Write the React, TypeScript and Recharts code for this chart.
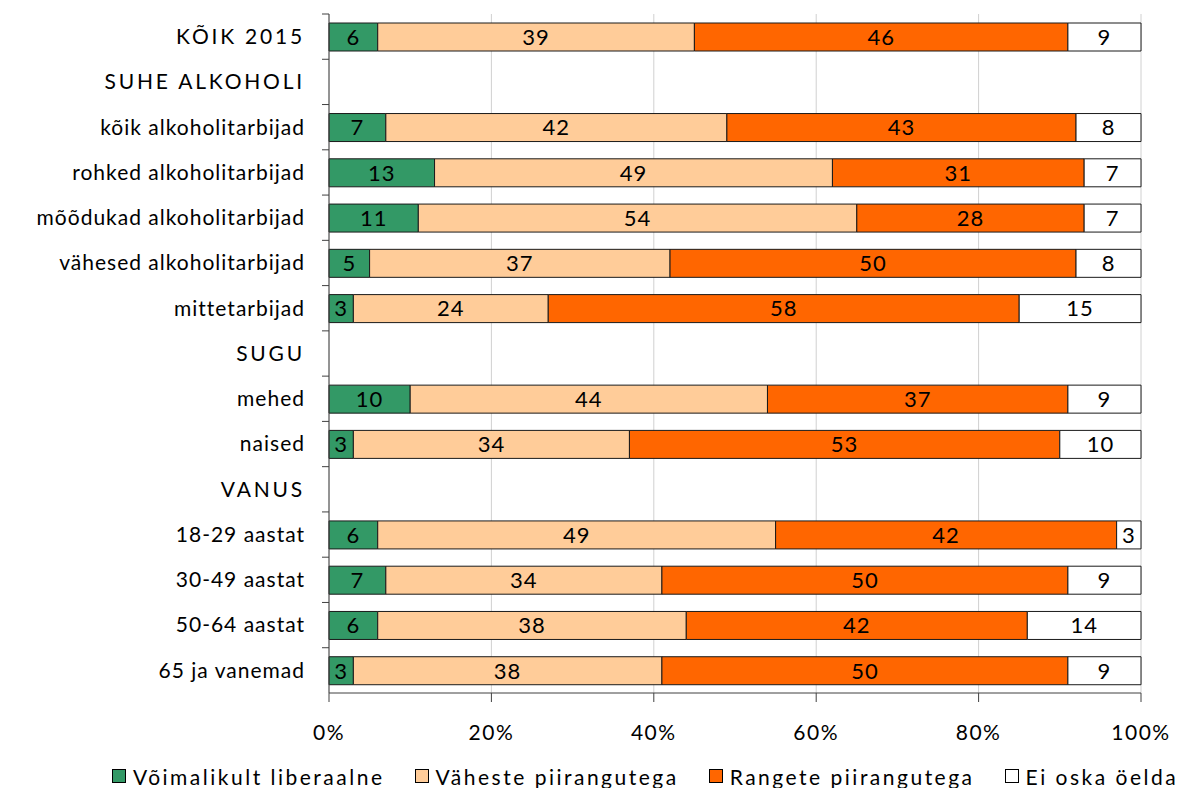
import * as React from "react";
import {
  BarChart,
  Bar,
  XAxis,
  YAxis,
  CartesianGrid,
  Legend,
  LabelList,
} from "recharts";

const categories = [
  "KÕIK 2015",
  "SUHE ALKOHOLI",
  "kõik alkoholitarbijad",
  "rohked alkoholitarbijad",
  "mõõdukad alkoholitarbijad",
  "vähesed alkoholitarbijad",
  "mittetarbijad",
  "SUGU",
  "mehed",
  "naised",
  "VANUS",
  "18-29 aastat",
  "30-49 aastat",
  "50-64 aastat",
  "65 ja vanemad",
];

// null = group header row, no bar
const liberaalne = [6, null, 7, 13, 11, 5, 3, null, 10, 3, null, 6, 7, 6, 3];
const vahesed = [39, null, 42, 49, 54, 37, 24, null, 44, 34, null, 49, 34, 38, 38];
const ranged = [46, null, 43, 31, 28, 50, 58, null, 37, 53, null, 42, 50, 42, 50];
const eiOska = [9, null, 8, 7, 7, 8, 15, null, 9, 10, null, 3, 9, 14, 9];

const xTicks = [0, 20, 40, 60, 80, 100];

const series = [
  { key: "lib", name: "Võimalikult liberaalne", color: "#339966" },
  { key: "vah", name: "Väheste piirangutega", color: "#FFCC99" },
  { key: "ran", name: "Rangete piirangutega", color: "#FF6600" },
  { key: "ei", name: "Ei oska öelda", color: "#FFFFFF" },
];

const data = categories.map((name, i) => ({
  name,
  lib: liberaalne[i],
  vah: vahesed[i],
  ran: ranged[i],
  ei: eiOska[i],
}));

const W = 1197;
const H = 788;
const TOP = 14;
const AXIS_LEFT = 329;
const X_AXIS_H = 57;
const LEGEND_H = 38;
const PLOT_H = H - TOP - X_AXIS_H - LEGEND_H;
const BAND = PLOT_H / categories.length;
const FONT = "Lato, 'Open Sans', sans-serif";

function YTick(props: any) {
  const { y, payload } = props;
  const label = String(payload.value);
  const isHeader = label === label.toUpperCase() && /[A-Z]/.test(label);
  return (
    <g>
      <text
        x={AXIS_LEFT - 24}
        y={y}
        dy="0.35em"
        textAnchor="end"
        fill="#000"
        fontSize={21}
        fontFamily={FONT}
        letterSpacing={isHeader ? 2.8 : 1}
      >
        {label}
      </text>
      <line
        x1={AXIS_LEFT - 7}
        x2={AXIS_LEFT}
        y1={y - BAND / 2}
        y2={y - BAND / 2}
        stroke="#404040"
      />
    </g>
  );
}

function LegendContent() {
  return (
    <div
      style={{
        width: W,
        height: LEGEND_H,
        display: "flex",
        alignItems: "center",
        paddingLeft: 112,
        paddingTop: 14,
        boxSizing: "border-box",
        fontFamily: FONT,
        fontSize: 21,
        letterSpacing: 2.5,
        color: "#000",
        gap: 30,
        whiteSpace: "nowrap",
      }}
    >
      {series.map((s) => (
        <div key={s.key} style={{ display: "flex", alignItems: "center" }}>
          <span
            style={{
              display: "inline-block",
              width: 12,
              height: 12,
              background: s.color,
              border: "1px solid #000",
              marginRight: 7,
            }}
          />
          <span>{s.name}</span>
        </div>
      ))}
    </div>
  );
}

const labelFmt = (v: any) => (v == null ? "" : v);

export default function App() {
  return (
    <div style={{ position: "absolute", left: 0, top: 0, width: W, height: H, background: "#fff" }}>
      <BarChart
        width={W}
        height={H}
        data={data}
        layout="vertical"
        margin={{ top: TOP, right: 56, left: 0, bottom: 0 }}
        barSize={28}
      >
        <CartesianGrid horizontal={false} vertical stroke="#d0d0d0" />
        <XAxis
          type="number"
          domain={[0, 100]}
          ticks={xTicks}
          interval={0}
          tickFormatter={(v) => `${v}%`}
          height={X_AXIS_H}
          tickSize={9}
          tickMargin={23}
          axisLine={{ stroke: "#404040" }}
          tickLine={{ stroke: "#404040" }}
          tick={{ fill: "#000", fontSize: 21, fontFamily: FONT, letterSpacing: 1.5 }}
        />
        <XAxis
          xAxisId="top"
          orientation="top"
          type="number"
          domain={[0, 100]}
          height={0}
          tick={false}
          tickLine={false}
          axisLine={{ stroke: "#999" }}
        />
        <YAxis
          type="category"
          dataKey="name"
          width={AXIS_LEFT}
          interval={0}
          tick={<YTick />}
          tickLine={false}
          axisLine={{ stroke: "#404040" }}
        />
        <YAxis
          yAxisId="right"
          orientation="right"
          type="category"
          dataKey="name"
          width={0}
          tick={false}
          tickLine={false}
          axisLine={{ stroke: "#999" }}
        />
        <Legend
          verticalAlign="bottom"
          height={LEGEND_H}
          wrapperStyle={{ left: 0, width: W }}
          content={<LegendContent />}
        />
        {series.map((s) => (
          <Bar
            key={s.key}
            dataKey={s.key}
            name={s.name}
            stackId="a"
            fill={s.color}
            stroke="#1a1a1a"
            strokeWidth={1}
            isAnimationActive={false}
          >
            <LabelList
              dataKey={s.key}
              position="center"
              formatter={labelFmt}
              fill="#000"
              fontSize={22}
              fontFamily={FONT}
              letterSpacing={1}
            />
          </Bar>
        ))}
      </BarChart>
    </div>
  );
}
